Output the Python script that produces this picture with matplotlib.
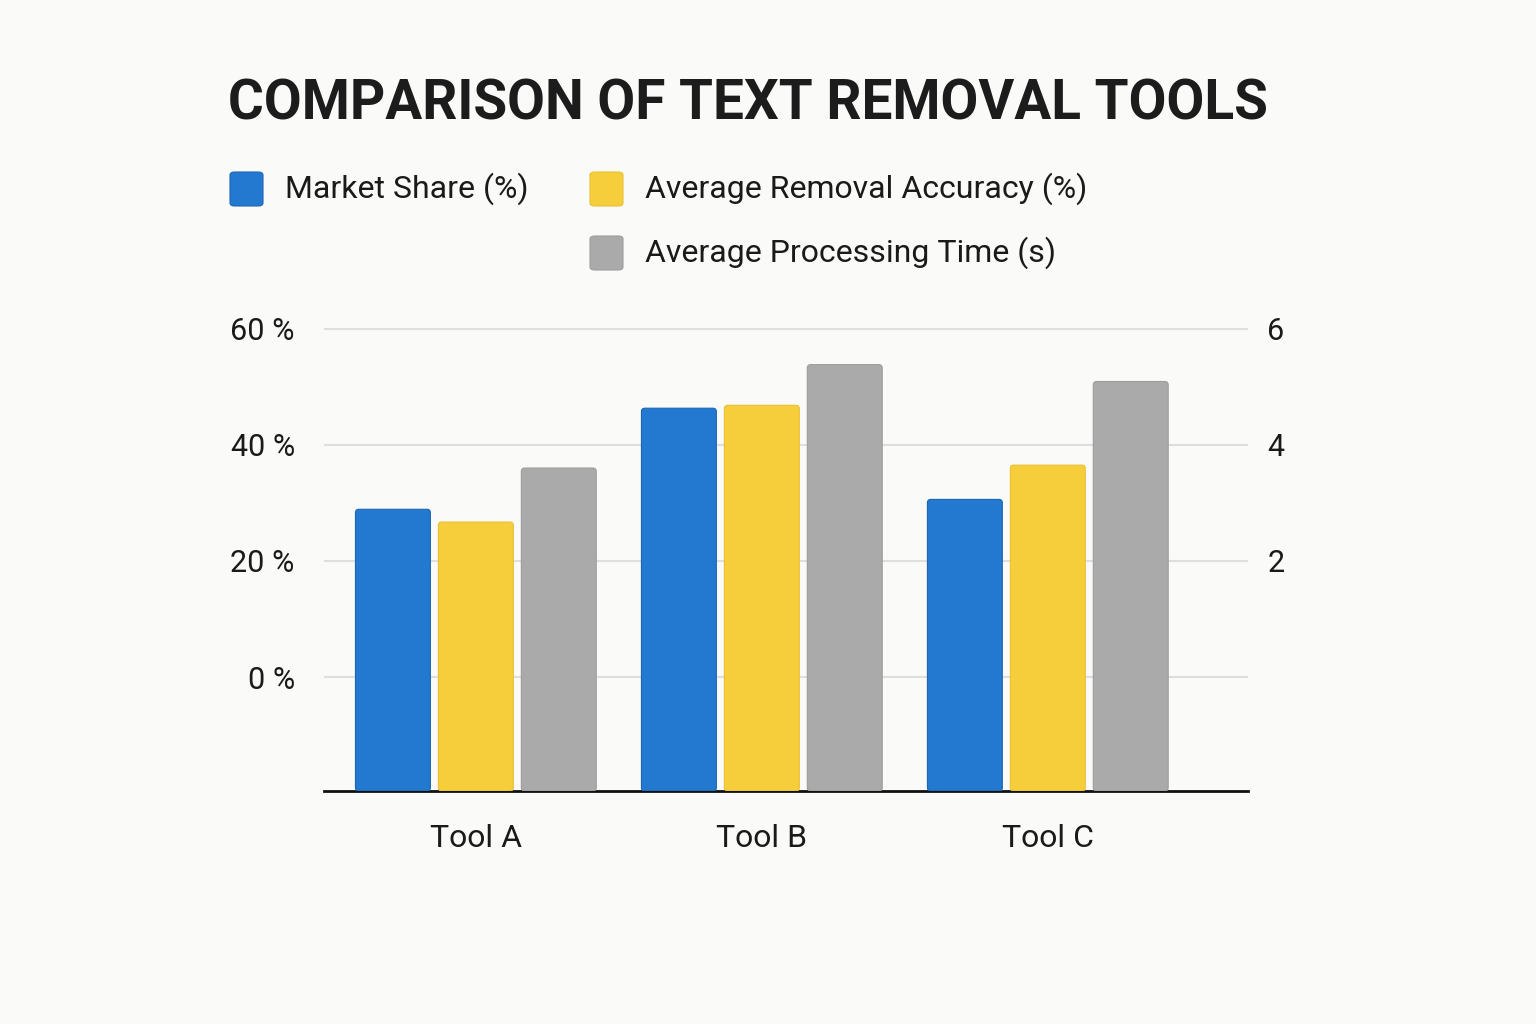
import matplotlib
matplotlib.use("Agg")
import matplotlib.pyplot as plt
from matplotlib.patches import FancyBboxPatch
import numpy as np

plt.rcParams['font.family'] = ['Roboto', 'DejaVu Sans']

# ---- data ----
categories = ["Tool A", "Tool B", "Tool C"]
market_share = [28.9, 46.3, 30.6]          # %
removal_accuracy = [26.7, 46.8, 36.5]      # %
processing_time = [3.6, 5.38, 5.09]        # s
series_names = ["Market Share (%)", "Average Removal Accuracy (%)", "Average Processing Time (s)"]
left_ticks = [0, 20, 40, 60]
left_tick_labels = ["0 %", "20 %", "40 %", "60 %"]
right_ticks = [2, 4, 6]
right_tick_labels = ["2", "4", "6"]

# ---- style ----
BG = "#fafaf8"
C_BLUE = "#2379cf"
C_YEL = "#f6ce3b"
C_GRAY = "#aaaaaa"
EDGE = ["#1d66b3", "#e9c033", "#9d9d9d"]

W, H = 1536, 1024
fig = plt.figure(figsize=(W / 100, H / 100), dpi=100, facecolor=BG)

def fx(px):
    return px / W

def fy(py):
    return 1 - py / H

ax = fig.add_axes([fx(324), fy(791), fx(1248) - fx(324), fy(317) - fy(791)])
ax.set_facecolor(BG)
ax2 = ax.twinx()

ymin, ymax = -19.6, 62
ax.set_ylim(ymin, ymax)
ax2.set_ylim(ymin / 10, ymax / 10)
ax.set_xlim(-0.531, 2.70)

x = np.arange(len(categories))
bw = 0.262
step = 0.29
vals = [market_share, removal_accuracy, processing_time]
cols = [C_BLUE, C_YEL, C_GRAY]
axes_for = [ax, ax, ax2]
for i, (v, c, a) in enumerate(zip(vals, cols, axes_for)):
    lo = a.get_ylim()[0]
    heights = [val - lo for val in v]
    bars = a.bar(x + (i - 1) * step, heights, bw, bottom=lo, color=c, zorder=3)
    for b in bars:
        b.set_visible(False)
        bx, by = b.get_x(), b.get_y()
        bwid, bh = b.get_width(), b.get_height()
        p = FancyBboxPatch((bx, by), bwid, bh,
                           boxstyle="round,pad=0,rounding_size=0.012",
                           mutation_aspect=(a.get_ylim()[1] - a.get_ylim()[0]) / (3.231) * (924 / 474),
                           facecolor=c, edgecolor=EDGE[i], linewidth=0.8, zorder=3)
        a.add_patch(p)

# gridlines
for t in left_ticks:
    ax.axhline(t, color="#dedede", lw=1.5, zorder=1)

for sp in ["top", "right", "left"]:
    ax.spines[sp].set_visible(False)
    ax2.spines[sp].set_visible(False)
ax2.spines["bottom"].set_visible(False)
ax.spines["bottom"].set_color("#111111")
ax.spines["bottom"].set_linewidth(2)

ax.set_yticks(left_ticks)
ax.set_yticklabels(left_tick_labels, fontsize=22, color="#1a1a1a")
ax.tick_params(axis="y", length=0, pad=21)
ax2.set_yticks(right_ticks)
ax2.set_yticklabels(right_tick_labels, fontsize=22, color="#1a1a1a")
ax2.tick_params(axis="y", length=0, pad=14)

ax.set_xticks(x)
ax.set_xticklabels(categories, fontsize=23, color="#1a1a1a")
ax.tick_params(axis="x", length=0, pad=24)

# title
fig.text(fx(228), fy(104), "COMPARISON OF TEXT REMOVAL TOOLS", fontsize=39.5,
         fontweight="bold", color="#1c1c1c", ha="left", va="center")

# legend
legend_pos = [(230, 189), (590, 189), (590, 253)]
for (px, py), name, c, e in zip(legend_pos, series_names, cols, EDGE):
    sq = FancyBboxPatch((fx(px), fy(py + 17)), fx(33), 34 / H,
                        boxstyle="round,pad=0,rounding_size=0.003",
                        transform=fig.transFigure, facecolor=c, edgecolor=e, lw=0.8)
    fig.patches.append(sq)
    fig.text(fx(px + 55), fy(py), name, fontsize=23, color="#1a1a1a",
             ha="left", va="center")

fig.savefig("out.png", dpi=100, facecolor=BG)
